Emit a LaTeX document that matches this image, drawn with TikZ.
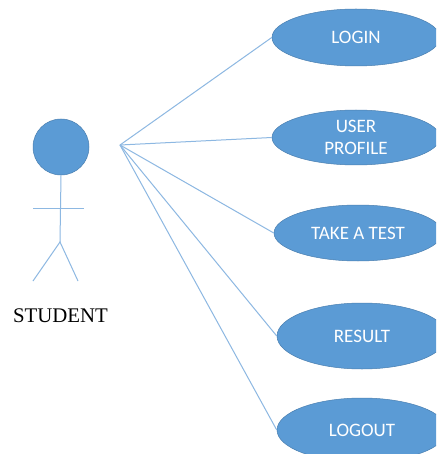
\documentclass[tikz,border=0pt]{standalone}
\usepackage{fontspec}
\usetikzlibrary{shapes.geometric}
\setmainfont{Carlito}
\newfontfamily\serifface{Liberation Serif}
\definecolor{ufill}{HTML}{5B9BD5}
\definecolor{uedge}{HTML}{4A7FB0}
\definecolor{uline}{HTML}{8DB8E2}
\begin{document}
\begin{tikzpicture}[x=1pt,y=-1pt,
  usecase/.style={ellipse,draw=uedge,line width=.5pt,fill=ufill,text=white,inner sep=0pt,font=\fontsize{19}{22.5}\selectfont,align=center},
  link/.style={draw=uline,line width=1pt},
  limb/.style={draw=uline,line width=1pt}]
\useasboundingbox (0,0) rectangle (436,454);
\clip (0,0) rectangle (436,454);
\fill[white] (0,0) rectangle (436,454);
\node[usecase,minimum width=168pt,minimum height=57pt] (login) at (356,37.5) {LOGIN};
\node[usecase,minimum width=168pt,minimum height=55pt] (profile) at (356,137.5) {USER\\PROFILE};
\node[usecase,minimum width=168pt,minimum height=56pt] (test) at (358,233) {TAKE A TEST};
\node[usecase,minimum width=170pt,minimum height=66pt] (result) at (362,336) {RESULT};
\node[usecase,minimum width=170pt,minimum height=64pt] (logout) at (362,430) {LOGOUT};
\coordinate (hub) at (120,145);
\draw[link] (hub) -- (login.west);
\draw[link] (hub) -- (profile.west);
\draw[link] (hub) -- (test.west);
\draw[link] (hub) -- (result.west);
\draw[link] (hub) -- (logout.west);
\node[circle,draw=uedge,line width=.5pt,fill=ufill,minimum size=56pt,inner sep=0pt] (head) at (61,147) {};
\coordinate (hip) at (60,242);
\coordinate (armL) at (33,208);
\coordinate (armR) at (84,208);
\coordinate (footL) at (33,281);
\coordinate (footR) at (78,281);
\draw[limb] (head.south) -- (hip);
\draw[limb] (armL) -- (armR);
\draw[limb] (footL) -- (hip) -- (footR);
\node[font=\serifface\fontsize{20.8}{22}\selectfont,text=black,inner sep=0pt] (student) at (60.5,316) {STUDENT};
\end{tikzpicture}
\end{document}
